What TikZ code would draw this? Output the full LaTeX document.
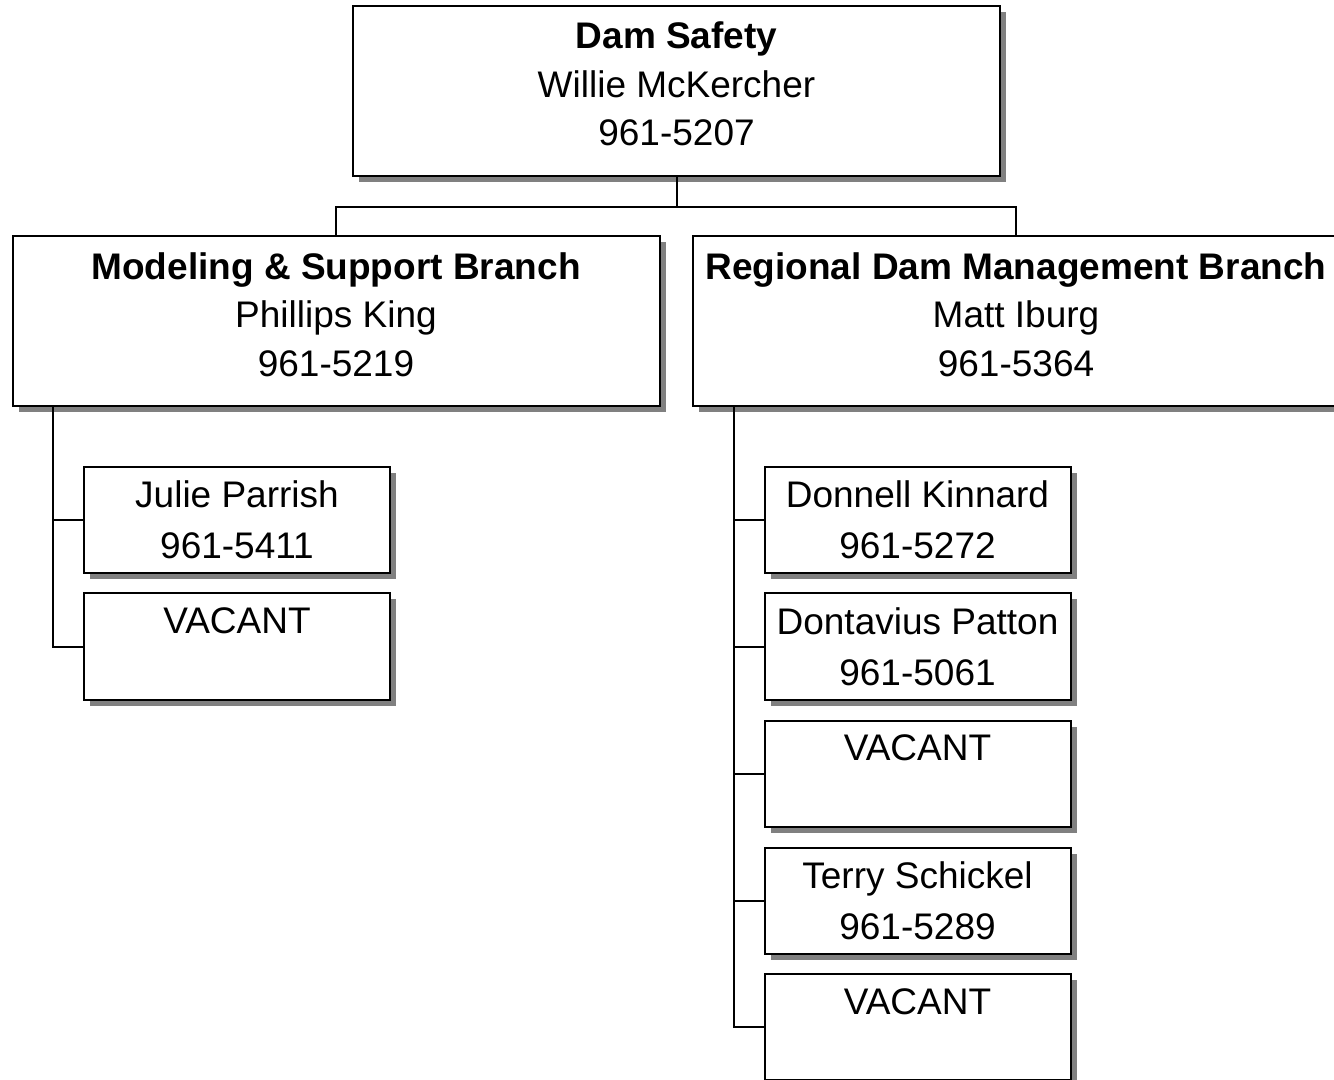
\documentclass[tikz,border=0pt]{standalone}
\usepackage{fontspec}
\setmainfont{Liberation Sans}
\usetikzlibrary{shadows,positioning}

\begin{document}
\begin{tikzpicture}[
    x=0.5pt, y=-0.5pt,
    unit/.style={rectangle, draw, line width=1pt, fill=white, align=center, inner sep=0pt,
        drop shadow={shadow xshift=3pt, shadow yshift=-3pt, fill=black!50, opacity=1}},
    head/.style={unit, minimum width=323.5pt, minimum height=85pt,
        font=\fontsize{18.5}{24.25}\selectfont,
        execute at end node={\rule[-7pt]{0pt}{0pt}}},
    staff/.style={unit, minimum width=153pt, minimum height=53pt,
        font=\fontsize{18.5}{25.5}\selectfont},
    link/.style={line width=1pt}
]
\useasboundingbox (0,0) rectangle (1334,1080);

% Division
\node[head] (dam) at (676.5, 91) {\textbf{Dam Safety}\\Willie McKercher\\961-5207};

% Branches
\node[head] (msb) at (336, 321.5) {\textbf{Modeling \& Support Branch}\\Phillips King\\961-5219};
\node[head] (rdm) at (1016, 321.5) {\textbf{Regional Dam Management Branch}\\Matt Iburg\\961-5364};

\draw[link] (dam.south) -- ++(0,30) -| (msb.north);
\draw[link] (dam.south) -- ++(0,30) -| (rdm.north);

% Staff (left)
\foreach \name/\yy/\txt in {jp/520/{Julie Parrish\\961-5411}, vac0/646.5/{VACANT\\\mbox{}}} {
    \node[staff] (\name) at (237, \yy) {\txt};
    \draw[link] (msb.south west) ++(41,0) |- (\name.west);
}

% Staff (right)
\foreach \name/\yy/\txt in {dk/520/{Donnell Kinnard\\961-5272}, dp/646.5/{Dontavius Patton\\961-5061},
    vac1/773.5/{VACANT\\\mbox{}}, ts/900.5/{Terry Schickel\\961-5289}, vac2/1027/{VACANT\\\mbox{}}} {
    \node[staff] (\name) at (917.5, \yy) {\txt};
    \draw[link] (rdm.south west) ++(42,0) |- (\name.west);
}

\end{tikzpicture}
\end{document}
